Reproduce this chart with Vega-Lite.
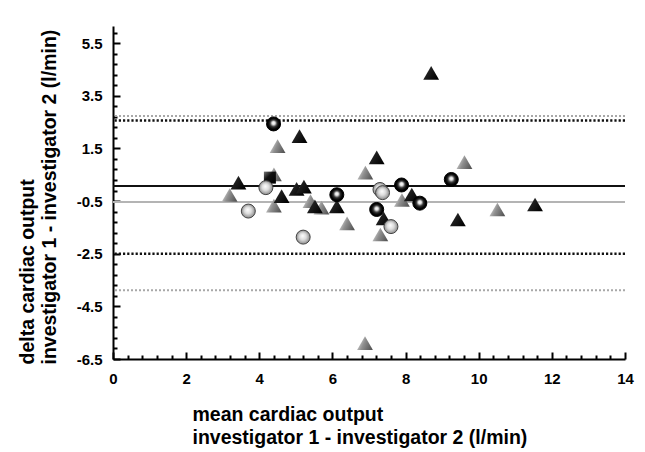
{
  "$schema": "https://vega.github.io/schema/vega-lite/v6.json",
  "width": 512,
  "height": 333,
  "autosize": {"type": "none"},
  "padding": {"left": 113, "top": 26, "right": 20, "bottom": 93},
  "background": "white",
  "config": {"view": {"stroke": null}, "font": "Liberation Sans"},
  "datasets": {
    "points": [
      {"mean": 3.43, "diff": 0.2, "marker": "black triangle"},
      {"mean": 5.1, "diff": 1.97, "marker": "black triangle"},
      {"mean": 8.7, "diff": 4.37, "marker": "black triangle"},
      {"mean": 7.21, "diff": 1.16, "marker": "black triangle"},
      {"mean": 4.61, "diff": -0.31, "marker": "black triangle"},
      {"mean": 5.02, "diff": -0.04, "marker": "black triangle"},
      {"mean": 5.22, "diff": 0.05, "marker": "black triangle"},
      {"mean": 5.52, "diff": -0.7, "marker": "black triangle"},
      {"mean": 6.12, "diff": -0.7, "marker": "black triangle"},
      {"mean": 7.4, "diff": -1.16, "marker": "black triangle"},
      {"mean": 8.17, "diff": -0.25, "marker": "black triangle"},
      {"mean": 9.43, "diff": -1.2, "marker": "black triangle"},
      {"mean": 11.54, "diff": -0.63, "marker": "black triangle"},
      {"mean": 3.19, "diff": -0.27, "marker": "gray triangle"},
      {"mean": 4.5, "diff": 1.59, "marker": "gray triangle"},
      {"mean": 4.4, "diff": 0.51, "marker": "gray triangle"},
      {"mean": 4.4, "diff": -0.67, "marker": "gray triangle"},
      {"mean": 5.4, "diff": -0.5, "marker": "gray triangle"},
      {"mean": 5.7, "diff": -0.75, "marker": "gray triangle"},
      {"mean": 6.4, "diff": -1.35, "marker": "gray triangle"},
      {"mean": 6.9, "diff": 0.58, "marker": "gray triangle"},
      {"mean": 7.31, "diff": -1.77, "marker": "gray triangle"},
      {"mean": 7.9, "diff": -0.46, "marker": "gray triangle"},
      {"mean": 9.61, "diff": 0.98, "marker": "gray triangle"},
      {"mean": 10.51, "diff": -0.82, "marker": "gray triangle"},
      {"mean": 6.89, "diff": -5.9, "marker": "gray triangle"},
      {"mean": 4.39, "diff": 2.43, "marker": "black circle"},
      {"mean": 6.12, "diff": -0.26, "marker": "black circle"},
      {"mean": 7.21, "diff": -0.82, "marker": "black circle"},
      {"mean": 7.89, "diff": 0.11, "marker": "black circle"},
      {"mean": 8.39, "diff": -0.58, "marker": "black circle"},
      {"mean": 9.25, "diff": 0.32, "marker": "black circle"},
      {"mean": 3.7, "diff": -0.88, "marker": "light circle"},
      {"mean": 4.18, "diff": 0.01, "marker": "light circle"},
      {"mean": 5.2, "diff": -1.87, "marker": "light circle"},
      {"mean": 7.3, "diff": -0.06, "marker": "light circle"},
      {"mean": 7.37, "diff": -0.18, "marker": "light circle"},
      {"mean": 7.6, "diff": -1.47, "marker": "light circle"},
      {"mean": 4.29, "diff": 0.39, "marker": "black square"}
    ],
    "lines": [
      {"stat": "mean", "group": "A", "value": 0.07},
      {"stat": "mean", "group": "B", "value": -0.54},
      {"stat": "limit", "group": "A", "value": 2.56},
      {"stat": "limit", "group": "A", "value": -2.5},
      {"stat": "limit", "group": "B", "value": 2.73},
      {"stat": "limit", "group": "B", "value": -3.89}
    ]
  },
  "layer": [
    {
      "data": {"name": "lines"},
      "transform": [{"filter": "datum.stat == 'limit' && datum.group == 'B'"}],
      "mark": {"type": "rule", "color": "#a8a8a8", "strokeWidth": 2, "strokeDash": [2, 2]},
      "encoding": {"y": {"field": "value", "type": "quantitative", "scale": {"domain": [-6.5, 6.15], "nice": false, "zero": false}, "axis": null}}
    },
    {
      "data": {"name": "lines"},
      "transform": [{"filter": "datum.stat == 'limit' && datum.group == 'A'"}],
      "mark": {"type": "rule", "color": "#111111", "strokeWidth": 2.5, "strokeDash": [2.2, 2]},
      "encoding": {"y": {"field": "value", "type": "quantitative", "scale": {"domain": [-6.5, 6.15], "nice": false, "zero": false}, "axis": null}}
    },
    {
      "data": {"name": "lines"},
      "transform": [{"filter": "datum.stat == 'mean' && datum.group == 'B'"}],
      "mark": {"type": "rule", "color": "#b4b4b4", "strokeWidth": 2},
      "encoding": {"y": {"field": "value", "type": "quantitative", "scale": {"domain": [-6.5, 6.15], "nice": false, "zero": false}, "axis": null}}
    },
    {
      "data": {"name": "lines"},
      "transform": [{"filter": "datum.stat == 'mean' && datum.group == 'A'"}],
      "mark": {"type": "rule", "color": "#111111", "strokeWidth": 2},
      "encoding": {"y": {"field": "value", "type": "quantitative", "scale": {"domain": [-6.5, 6.15], "nice": false, "zero": false}, "axis": null}}
    },
    {
      "data": {"name": "points"},
      "transform": [{"filter": "datum.marker == 'gray triangle'"}],
      "mark": {"type": "point", "shape": "triangle-up", "size": 250, "filled": true, "opacity": 1,
        "fill": {"gradient": "linear", "x1": 0, "y1": 0.3, "x2": 1, "y2": 0.7,
          "stops": [{"offset": 0, "color": "#e2e2e2"}, {"offset": 0.45, "color": "#8e8e8e"}, {"offset": 1, "color": "#555555"}]}},
      "encoding": {
        "x": {"field": "mean", "type": "quantitative", "scale": {"domain": [0, 14], "nice": false, "zero": false},
          "axis": {"orient": "bottom", "values": [0, 2, 4, 6, 8, 10, 12, 14], "format": "d", "grid": false,
            "domain": true, "domainColor": "#000000", "domainWidth": 2,
            "ticks": true, "tickSize": -7, "tickWidth": 2, "tickColor": "#000000",
            "labelFontSize": 15, "labelFontWeight": "bold", "labelColor": "#000000", "labelPadding": 19, "labelFlush": false, "labelOverlap": false,
            "title": ["mean cardiac output", "investigator 1 -  investigator 2 (l/min)"],
            "titleFontSize": 19.5, "titleFontWeight": "bold", "titleColor": "#000000", "titleLineHeight": 22.5,
            "titleAlign": "left", "titleAnchor": "start", "titleBaseline": "alphabetic", "titleX": 79, "titleY": 61.5}},
        "y": {"field": "diff", "type": "quantitative", "scale": {"domain": [-6.5, 6.15], "nice": false, "zero": false},
          "axis": {"orient": "left", "values": [-6.5, -4.5, -2.5, -0.5, 1.5, 3.5, 5.5], "format": ".1f", "grid": false,
            "labelExpr": "replace(datum.label, '\u2212', '-')",
            "domain": true, "domainColor": "#000000", "domainWidth": 2,
            "ticks": true, "tickSize": -7, "tickWidth": 2, "tickColor": "#000000",
            "labelFontSize": 15, "labelFontWeight": "bold", "labelColor": "#000000", "labelPadding": 18, "labelFlush": false, "labelOverlap": false,
            "title": ["delta cardiac output", "investigator 1 - investigator 2 (l/min)"],
            "titleFontSize": 19.5, "titleFontWeight": "bold", "titleColor": "#000000", "titleLineHeight": 22,
            "titleAngle": 270, "titleAlign": "left", "titleAnchor": "start", "titleBaseline": "alphabetic", "titleX": -80, "titleY": 338}}
      }
    },
    {
      "data": {"name": "points"},
      "transform": [{"filter": "datum.marker == 'black triangle'"}],
      "mark": {"type": "point", "shape": "triangle-up", "size": 250, "filled": true, "opacity": 1,
        "fill": {"gradient": "linear", "x1": 0, "y1": 0.2, "x2": 1, "y2": 0.8,
          "stops": [{"offset": 0, "color": "#9a9a9a"}, {"offset": 0.35, "color": "#1e1e1e"}, {"offset": 1, "color": "#000000"}]}},
      "encoding": {
        "x": {"field": "mean", "type": "quantitative", "scale": {"domain": [0, 14], "nice": false, "zero": false},
          "axis": {"orient": "bottom", "values": [0.4, 0.8, 1.2, 1.6, 2.4, 2.8, 3.2, 3.6, 4.4, 4.8, 5.2, 5.6, 6.4, 6.8, 7.2, 7.6, 8.4, 8.8, 9.2, 9.6, 10.4, 10.8, 11.2, 11.6, 12.4, 12.8, 13.2, 13.6],
            "domain": false, "labels": false, "grid": false, "title": null,
            "ticks": true, "tickSize": -4, "tickWidth": 2, "tickColor": "#000000"}},
        "y": {"field": "diff", "type": "quantitative", "scale": {"domain": [-6.5, 6.15], "nice": false, "zero": false},
          "axis": {"orient": "left", "values": [-6.1, -5.7, -5.3, -4.9, -4.1, -3.7, -3.3, -2.9, -2.1, -1.7, -1.3, -0.9, -0.1, 0.3, 0.7, 1.1, 1.9, 2.3, 2.7, 3.1, 3.9, 4.3, 4.7, 5.1, 5.9],
            "domain": false, "labels": false, "grid": false, "title": null,
            "ticks": true, "tickSize": -4, "tickWidth": 2, "tickColor": "#000000"}}
      }
    },
    {
      "data": {"name": "points"},
      "transform": [{"filter": "datum.marker == 'black square'"}],
      "mark": {"type": "point", "shape": "square", "size": 144, "filled": true, "opacity": 1,
        "fill": {"gradient": "linear", "x1": 0, "y1": 0, "x2": 1, "y2": 1,
          "stops": [{"offset": 0, "color": "#777777"}, {"offset": 0.4, "color": "#111111"}, {"offset": 1, "color": "#000000"}]}},
      "encoding": {
        "x": {"field": "mean", "type": "quantitative", "scale": {"domain": [0, 14], "nice": false, "zero": false}, "axis": null},
        "y": {"field": "diff", "type": "quantitative", "scale": {"domain": [-6.5, 6.15], "nice": false, "zero": false}, "axis": null}
      }
    },
    {
      "data": {"name": "points"},
      "transform": [{"filter": "datum.marker == 'light circle'"}],
      "mark": {"type": "point", "shape": "circle", "size": 196, "filled": true, "opacity": 1, "stroke": "#444444", "strokeWidth": 1,
        "fill": {"gradient": "radial", "x1": 0.45, "y1": 0.4, "r1": 0, "x2": 0.5, "y2": 0.5, "r2": 0.5,
          "stops": [{"offset": 0, "color": "#ffffff"}, {"offset": 0.5, "color": "#dcdcdc"}, {"offset": 1, "color": "#8a8a8a"}]}},
      "encoding": {
        "x": {"field": "mean", "type": "quantitative", "scale": {"domain": [0, 14], "nice": false, "zero": false}, "axis": null},
        "y": {"field": "diff", "type": "quantitative", "scale": {"domain": [-6.5, 6.15], "nice": false, "zero": false}, "axis": null}
      }
    },
    {
      "data": {"name": "points"},
      "transform": [{"filter": "datum.marker == 'black circle'"}],
      "mark": {"type": "point", "shape": "circle", "size": 196, "filled": true, "opacity": 1, "stroke": "#000000", "strokeWidth": 1,
        "fill": {"gradient": "radial", "x1": 0.5, "y1": 0.42, "r1": 0, "x2": 0.5, "y2": 0.5, "r2": 0.5,
          "stops": [{"offset": 0, "color": "#ffffff"}, {"offset": 0.22, "color": "#e6e6e6"}, {"offset": 0.5, "color": "#333333"}, {"offset": 0.8, "color": "#000000"}, {"offset": 1, "color": "#000000"}]}},
      "encoding": {
        "x": {"field": "mean", "type": "quantitative", "scale": {"domain": [0, 14], "nice": false, "zero": false}, "axis": null},
        "y": {"field": "diff", "type": "quantitative", "scale": {"domain": [-6.5, 6.15], "nice": false, "zero": false}, "axis": null}
      }
    }
  ],
  "resolve": {"axis": {"x": "independent", "y": "independent"}}
}
